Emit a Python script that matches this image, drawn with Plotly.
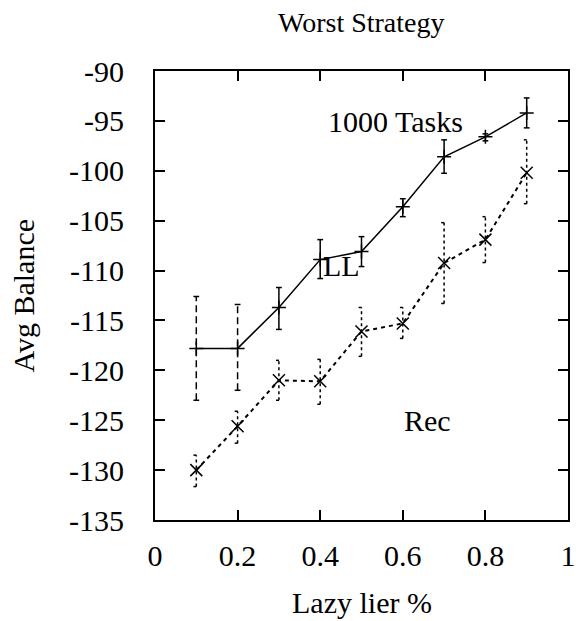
import plotly.graph_objects as go

x_vals = [0.1, 0.2, 0.3, 0.4, 0.5, 0.6, 0.7, 0.8, 0.9]
ll_mean = [-117.8, -117.8, -113.7, -108.9, -108.1, -103.6, -98.6, -96.6, -94.2]
ll_hi = [-112.6, -113.4, -111.7, -106.9, -106.6, -102.8, -96.9, -96.3, -92.7]
ll_lo = [-123.0, -122.0, -115.9, -110.8, -109.6, -104.6, -100.25, -97.0, -95.7]
rec_mean = [-130.0, -125.6, -121.0, -121.1, -116.1, -115.3, -109.25, -106.9, -100.2]
rec_hi = [-128.5, -124.1, -119.0, -118.9, -113.7, -113.7, -105.2, -104.6, -96.9]
rec_lo = [-131.65, -127.3, -123.0, -123.4, -118.6, -116.8, -113.3, -109.2, -103.3]

x_ticks = [0, 0.2, 0.4, 0.6, 0.8, 1]
x_tick_text = ["0", "0.2", "0.4", "0.6", "0.8", "1"]
y_ticks = [-135, -130, -125, -120, -115, -110, -105, -100, -95, -90]
y_tick_text = ["-135", "-130", "-125", "-120", "-115", "-110", "-105", "-100", "-95", "-90"]

FONT = "Liberation Serif"
CAP = 0.007


def err_segments(xs, los, his):
    sx, sy = [], []
    for xv, lo, hi in zip(xs, los, his):
        sx += [xv, xv, None, xv - CAP, xv + CAP, None, xv - CAP, xv + CAP, None]
        sy += [lo, hi, None, lo, lo, None, hi, hi, None]
    return sx, sy


fig = go.Figure()

# LL error bars (first two dashed, rest solid)
ex, ey = err_segments(x_vals[:2], ll_lo[:2], ll_hi[:2])
fig.add_trace(go.Scatter(x=ex, y=ey, mode="lines", line=dict(color="black", width=1.5, dash="7px,4px"),
                         showlegend=False, hoverinfo="skip"))
ex, ey = err_segments(x_vals[2:], ll_lo[2:], ll_hi[2:])
fig.add_trace(go.Scatter(x=ex, y=ey, mode="lines", line=dict(color="black", width=1.5),
                         showlegend=False, hoverinfo="skip"))
# Rec error bars dotted
ex, ey = err_segments(x_vals, rec_lo, rec_hi)
fig.add_trace(go.Scatter(x=ex, y=ey, mode="lines", line=dict(color="black", width=1.5, dash="dot"),
                         showlegend=False, hoverinfo="skip"))

fig.add_trace(go.Scatter(x=x_vals, y=ll_mean, mode="lines+markers", name="LL",
                         line=dict(color="black", width=1.5),
                         marker=dict(symbol="cross-thin", size=10, line=dict(color="black", width=1.5)),
                         showlegend=False))
fig.add_trace(go.Scatter(x=x_vals, y=rec_mean, mode="lines+markers", name="Rec",
                         line=dict(color="black", width=2, dash="4px,4px"),
                         marker=dict(symbol="x-thin", size=12, line=dict(color="black", width=1.5)),
                         showlegend=False))

ann_font = dict(family=FONT, size=30, color="black")
fig.add_annotation(x=0.582, y=-95.1, text="1000 Tasks", showarrow=False, font=ann_font,
                   xanchor="center", yanchor="middle")
fig.add_annotation(x=0.451, y=-109.5, text="LL", showarrow=False, font=ann_font,
                   xanchor="center", yanchor="middle")
fig.add_annotation(x=0.66, y=-125.05, text="Rec", showarrow=False, font=ann_font,
                   xanchor="center", yanchor="middle")

fig.add_annotation(xref="paper", yref="paper", x=0.5, y=1, yshift=49, text="Worst Strategy",
                   showarrow=False, font=dict(family=FONT, size=28, color="black"),
                   xanchor="center", yanchor="middle")
fig.add_annotation(xref="paper", yref="paper", x=0.5, y=0, yshift=-82, text="Lazy lier %",
                   showarrow=False, font=ann_font, xanchor="center", yanchor="middle")
fig.add_annotation(xref="paper", yref="paper", x=0, xshift=-132, y=0.5, text="Avg Balance",
                   textangle=-90, showarrow=False, font=ann_font, xanchor="center", yanchor="middle")

axis_common = dict(showline=True, linecolor="black", linewidth=2, mirror="allticks",
                   ticks="inside", ticklen=10, tickwidth=2, tickcolor="black",
                   showgrid=False, zeroline=False,
                   tickfont=dict(family=FONT, size=30, color="black"))
fig.update_xaxes(range=[0, 1], tickvals=x_ticks, ticktext=x_tick_text, ticklabelstandoff=8, **axis_common)
fig.update_yaxes(range=[-135, -90], tickvals=y_ticks, ticktext=y_tick_text, ticklabelstandoff=23,
                 **axis_common)

fig.update_layout(width=576, height=613, margin=dict(l=147, r=8, t=63, b=101),
                  plot_bgcolor="white", paper_bgcolor="white", showlegend=False)

fig.write_html("out.html")
